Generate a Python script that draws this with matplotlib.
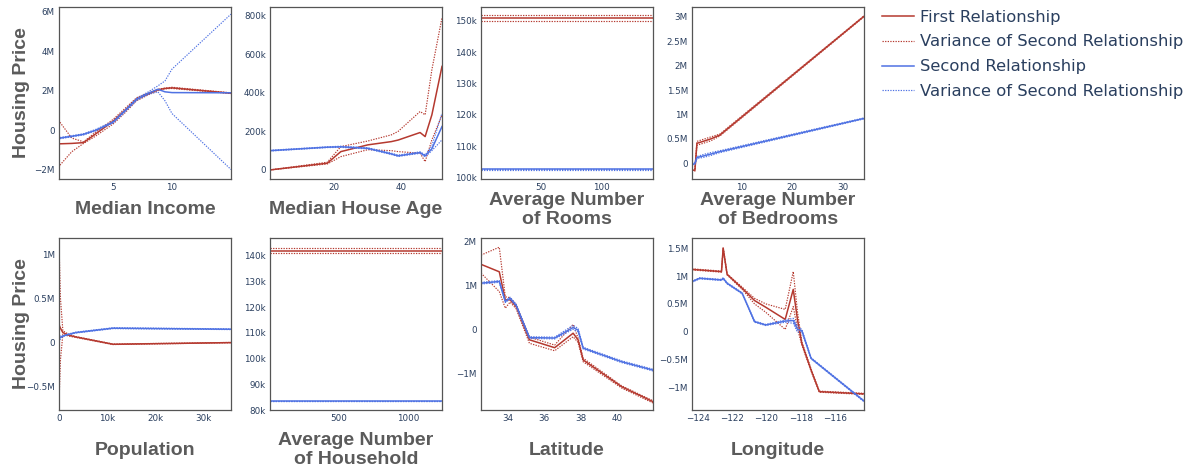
import matplotlib
matplotlib.use("Agg")
import matplotlib.pyplot as plt
from matplotlib.lines import Line2D

RED = "#b5392f"
BLUE = "#4f72e3"
TICK_COLOR = "#2a3f5f"
TITLE_COLOR = "#5b5b5b"

# ---------------- data ----------------
# 1. Median Income (y in millions)
income_x = [0.5, 1.5, 2.5, 3.5, 5.0, 6.0, 7.0, 8.0, 8.8, 9.4, 10.0, 15.0]
income_first = [-0.68, -0.66, -0.62, -0.19, 0.46, 1.0, 1.57, 1.85, 2.05, 2.12, 2.15, 1.88]
income_first_up = [0.41, -0.39, -0.58, -0.1, 0.55, 1.1, 1.65, 1.9, 2.08, 2.14, 2.18, 1.9]
income_first_lo = [-1.76, -1.08, -0.66, -0.3, 0.32, 0.88, 1.5, 1.8, 2.02, 2.1, 2.12, 1.86]
income_second = [-0.39, -0.3, -0.2, 0.0, 0.41, 0.98, 1.57, 1.88, 2.08, 1.95, 1.91, 1.9]
income_second_up = [-0.36, -0.27, -0.17, 0.04, 0.45, 1.03, 1.62, 1.95, 2.25, 2.5, 3.1, 5.88]
income_second_lo = [-0.42, -0.33, -0.23, -0.04, 0.37, 0.93, 1.52, 1.82, 1.95, 1.5, 0.85, -1.98]

# 2. Median House Age (y in thousands)
age_x = [1, 18, 22, 30, 37, 39, 45.5, 47, 49, 52]
age_first = [0, 35, 95, 130, 147, 155, 194, 173, 286, 537]
age_first_up = [0, 40, 121, 150, 182, 200, 303, 286, 520, 790]
age_first_lo = [0, 31, 69, 105, 100, 95, 87, 43, 156, 285]
age_second = [100, 118, 120, 112, 83, 73, 90, 73, 110, 225]
age_second_up = [102, 120, 123, 115, 87, 77, 94, 78, 125, 294]
age_second_lo = [98, 116, 117, 109, 80, 70, 86, 68, 100, 156]

# 3. Average Number of Rooms (y in thousands)
rooms_x = [0.85, 141.9]
rooms_first = [150.9, 150.9]
rooms_first_up = [151.8, 151.8]
rooms_first_lo = [149.9, 149.9]
rooms_second = [102.7, 102.7]
rooms_second_up = [102.8, 102.8]
rooms_second_lo = [102.6, 102.6]

# 4. Average Number of Bedrooms (y in millions)
bed_x = [0.33, 0.9, 1.3, 2.5, 4.0, 5.8, 34.07]
bed_first = [-0.14, -0.14, 0.41, 0.45, 0.5, 0.58, 3.01]
bed_first_up = [-0.14, -0.12, 0.45, 0.49, 0.54, 0.6, 3.02]
bed_first_lo = [-0.14, -0.16, 0.37, 0.41, 0.46, 0.56, 3.0]
bed_second = [-0.03, 0.0, 0.12, 0.15, 0.19, 0.24, 0.92]
bed_second_up = [-0.03, 0.02, 0.14, 0.18, 0.22, 0.26, 0.93]
bed_second_lo = [-0.03, -0.02, 0.1, 0.12, 0.16, 0.22, 0.91]

# 5. Population (x in thousands, y in millions)
pop_x = [0.003, 0.3, 0.8, 2.0, 3.5, 11.2, 35.68]
pop_first = [0.2, 0.16, 0.11, 0.08, 0.06, -0.023, -0.004]
pop_first_up = [1.12, 0.5, 0.13, 0.09, 0.065, -0.02, -0.002]
pop_first_lo = [-0.69, -0.2, 0.09, 0.07, 0.055, -0.026, -0.006]
pop_second = [0.045, 0.055, 0.07, 0.09, 0.11, 0.16, 0.148]
pop_second_up = [0.1, 0.07, 0.075, 0.095, 0.115, 0.165, 0.152]
pop_second_lo = [0.0, 0.04, 0.065, 0.085, 0.105, 0.155, 0.144]

# 6. Average Number of Household (y in thousands)
hh_x = [0.69, 1243.3]
hh_first = [142.1, 142.1]
hh_first_up = [143.2, 143.2]
hh_first_lo = [141.0, 141.0]
hh_second = [83.5, 83.5]
hh_second_up = [83.6, 83.6]
hh_second_lo = [83.4, 83.4]

# 7. Latitude (y in millions)
lat_x = [32.54, 33.54, 33.87, 34.13, 34.46, 35.19, 36.57, 37.58, 37.85, 38.13, 40.24, 41.95]
lat_first = [1.48, 1.31, 0.67, 0.67, 0.52, -0.24, -0.42, -0.09, -0.24, -0.7, -1.31, -1.65]
lat_first_up = [1.69, 1.87, 0.74, 0.72, 0.57, -0.18, -0.36, 0.11, -0.2, -0.66, -1.29, -1.63]
lat_first_lo = [1.28, 0.86, 0.48, 0.62, 0.47, -0.32, -0.49, -0.17, -0.3, -0.74, -1.34, -1.68]
lat_second = [1.05, 1.09, 0.63, 0.71, 0.55, -0.19, -0.2, 0.04, -0.02, -0.43, -0.74, -0.93]
lat_second_up = [1.07, 1.11, 0.65, 0.73, 0.57, -0.17, -0.18, 0.09, 0.02, -0.41, -0.72, -0.91]
lat_second_lo = [1.03, 1.07, 0.61, 0.69, 0.53, -0.21, -0.22, 0.0, -0.06, -0.45, -0.76, -0.95]

# 8. Longitude (y in millions)
lon_x = [-124.35, -123.9, -122.63, -122.53, -122.3, -121.42, -120.7, -120.05, -118.91,
         -118.44, -118.19, -117.94, -117.4, -116.92, -114.31]
lon_first = [1.12, 1.11, 1.08, 1.5, 1.03, 0.78, 0.56, 0.44, 0.22, 0.76, 0.21, -0.21, -0.69, -1.08, -1.12]
lon_first_up = [1.13, 1.12, 1.09, 1.52, 1.04, 0.8, 0.6, 0.5, 0.4, 1.08, 0.35, -0.18, -0.67, -1.07, -1.11]
lon_first_lo = [1.11, 1.10, 1.07, 1.48, 1.02, 0.76, 0.5, 0.35, 0.04, 0.45, 0.05, -0.24, -0.71, -1.09, -1.13]
lon_second = [0.9, 0.96, 0.93, 0.96, 0.87, 0.69, 0.18, 0.12, 0.19, 0.2, 0.04, 0.02, -0.48, -0.6, -1.25]
lon_second_up = [0.91, 0.97, 0.94, 0.97, 0.88, 0.7, 0.19, 0.13, 0.21, 0.24, 0.1, 0.04, -0.47, -0.59, -1.24]
lon_second_lo = [0.89, 0.95, 0.92, 0.95, 0.86, 0.68, 0.17, 0.11, 0.17, 0.15, -0.01, 0.0, -0.49, -0.61, -1.26]

titles = ["Median Income", "Median House Age", "Average Number\nof Rooms", "Average Number\nof Bedrooms",
          "Population", "Average Number\nof Household", "Latitude", "Longitude"]

legend_labels = ["First Relationship", "Variance of Second Relationship",
                 "Second Relationship", "Variance of Second Relationship"]

# tick values / labels
income_xticks, income_xlabels = [5, 10], ["5", "10"]
income_yticks, income_ylabels = [-2, 0, 2, 4, 6], ["\u22122M", "0", "2M", "4M", "6M"]
age_xticks, age_xlabels = [20, 40], ["20", "40"]
age_yticks, age_ylabels = [0, 200, 400, 600, 800], ["0", "200k", "400k", "600k", "800k"]
rooms_xticks, rooms_xlabels = [50, 100], ["50", "100"]
rooms_yticks, rooms_ylabels = [100, 110, 120, 130, 140, 150], ["100k", "110k", "120k", "130k", "140k", "150k"]
bed_xticks, bed_xlabels = [10, 20, 30], ["10", "20", "30"]
bed_yticks, bed_ylabels = [0, 0.5, 1, 1.5, 2, 2.5, 3], ["0", "0.5M", "1M", "1.5M", "2M", "2.5M", "3M"]
pop_xticks, pop_xlabels = [0, 10, 20, 30], ["0", "10k", "20k", "30k"]
pop_yticks, pop_ylabels = [-0.5, 0, 0.5, 1], ["\u22120.5M", "0", "0.5M", "1M"]
hh_xticks, hh_xlabels = [500, 1000], ["500", "1000"]
hh_yticks, hh_ylabels = [80, 90, 100, 110, 120, 130, 140], ["80k", "90k", "100k", "110k", "120k", "130k", "140k"]
lat_xticks, lat_xlabels = [34, 36, 38, 40], ["34", "36", "38", "40"]
lat_yticks, lat_ylabels = [-1, 0, 1, 2], ["\u22121M", "0", "1M", "2M"]
lon_xticks, lon_xlabels = [-124, -122, -120, -118, -116], ["\u2212124", "\u2212122", "\u2212120", "\u2212118", "\u2212116"]
lon_yticks, lon_ylabels = [-1, -0.5, 0, 0.5, 1, 1.5], ["\u22121M", "\u22120.5M", "0", "0.5M", "1M", "1.5M"]

panels = [
    (income_x, income_first, income_first_up, income_first_lo, income_second, income_second_up, income_second_lo,
     (0.42, 15.0), (-2.46, 6.24), income_xticks, income_xlabels, income_yticks, income_ylabels),
    (age_x, age_first, age_first_up, age_first_lo, age_second, age_second_up, age_second_lo,
     (1, 52), (-47, 845), age_xticks, age_xlabels, age_yticks, age_ylabels),
    (rooms_x, rooms_first, rooms_first_up, rooms_first_lo, rooms_second, rooms_second_up, rooms_second_lo,
     (0.85, 141.9), (99.6, 154.4), rooms_xticks, rooms_xlabels, rooms_yticks, rooms_ylabels),
    (bed_x, bed_first, bed_first_up, bed_first_lo, bed_second, bed_second_up, bed_second_lo,
     (0.33, 34.07), (-0.32, 3.2), bed_xticks, bed_xlabels, bed_yticks, bed_ylabels),
    (pop_x, pop_first, pop_first_up, pop_first_lo, pop_second, pop_second_up, pop_second_lo,
     (0.003, 35.68), (-0.77, 1.185), pop_xticks, pop_xlabels, pop_yticks, pop_ylabels),
    (hh_x, hh_first, hh_first_up, hh_first_lo, hh_second, hh_second_up, hh_second_lo,
     (0.69, 1243.3), (80, 147), hh_xticks, hh_xlabels, hh_yticks, hh_ylabels),
    (lat_x, lat_first, lat_first_up, lat_first_lo, lat_second, lat_second_up, lat_second_lo,
     (32.54, 41.95), (-1.84, 2.08), lat_xticks, lat_xlabels, lat_yticks, lat_ylabels),
    (lon_x, lon_first, lon_first_up, lon_first_lo, lon_second, lon_second_up, lon_second_lo,
     (-124.35, -114.31), (-1.41, 1.685), lon_xticks, lon_xlabels, lon_yticks, lon_ylabels),
]

# ---------------- figure ----------------
W, H = 1199, 470
fig = plt.figure(figsize=(W / 100, H / 100), dpi=100)
fig.patch.set_facecolor("white")

lefts_px = [59, 270, 481, 692]
bottoms_px = [179, 410]
size_px = 172

label_y = [-0.18, -0.233]
DOT = (0, (1.1, 1.1))

for i, p in enumerate(panels):
    (x, f, fu, fl, s, su, sl, xlim, ylim, xt, xtl, yt, ytl) = p
    r, c = divmod(i, 4)
    ax = fig.add_axes([lefts_px[c] / W, 1 - bottoms_px[r] / H, size_px / W, size_px / H])
    ax.plot(x, fu, color=RED, lw=0.85, ls=DOT)
    ax.plot(x, fl, color=RED, lw=0.85, ls=DOT)
    ax.plot(x, f, color=RED, lw=1.1)
    ax.plot(x, su, color=BLUE, lw=0.85, ls=DOT)
    ax.plot(x, sl, color=BLUE, lw=0.85, ls=DOT)
    ax.plot(x, s, color=BLUE, lw=1.1)
    ax.set_xlim(*xlim)
    ax.set_ylim(*ylim)
    ax.set_xticks(xt)
    ax.set_xticklabels(xtl)
    ax.set_yticks(yt)
    ax.set_yticklabels(ytl)
    ax.tick_params(length=0, pad=3, labelsize=6.3, labelcolor=TICK_COLOR)
    for lab in ax.get_xticklabels() + ax.get_yticklabels():
        lab.set_fontfamily("DejaVu Sans")
    for sp in ax.spines.values():
        sp.set_color("#555555")
        sp.set_linewidth(0.9)
    ax.text(0.5, label_y[r], titles[i], transform=ax.transAxes, ha="center", va="center",
            fontsize=14, fontweight="bold", color=TITLE_COLOR, family="Liberation Sans",
            linespacing=1.2)
    if c == 0:
        ax.text(-0.22, 0.5, "Housing Price", transform=ax.transAxes, ha="center", va="center",
                rotation=90, fontsize=14, fontweight="bold", color=TITLE_COLOR, family="Liberation Sans")

handles = [Line2D([], [], color=RED, lw=1.1),
           Line2D([], [], color=RED, lw=0.85, ls=DOT),
           Line2D([], [], color=BLUE, lw=1.1),
           Line2D([], [], color=BLUE, lw=0.85, ls=DOT)]
fig.legend(handles, legend_labels, loc="upper left", bbox_to_anchor=(871 / W, 1 + 1 / H),
           frameon=False, prop={"family": "DejaVu Sans", "size": 11.8}, labelcolor=TICK_COLOR,
           handlelength=1.95, handletextpad=0.36, labelspacing=0.6, borderpad=0.15)

fig.savefig("out.png", dpi=100)
